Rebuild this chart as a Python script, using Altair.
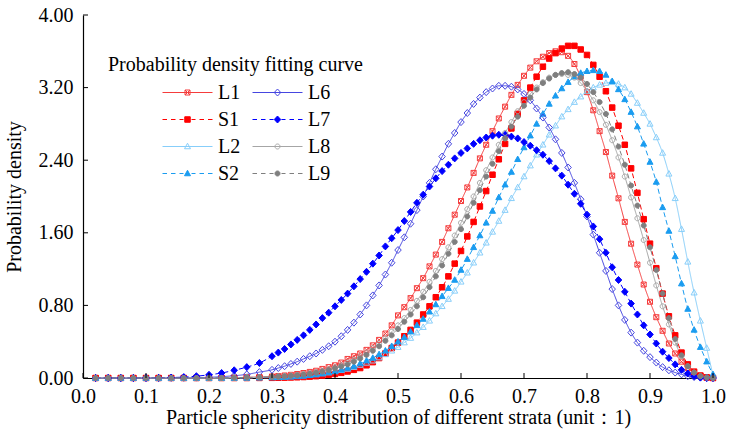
import altair as alt
import pandas as pd

# ---------------- data ----------------
X = [0.02, 0.04, 0.06, 0.08, 0.10, 0.12, 0.14, 0.16, 0.18, 0.20, 0.22, 0.24, 0.26, 0.28,
     0.30, 0.31, 0.32, 0.33, 0.34, 0.35, 0.36, 0.37, 0.38, 0.39,
     0.40, 0.41, 0.42, 0.43, 0.44, 0.45, 0.46, 0.47, 0.48, 0.49,
     0.50, 0.51, 0.52, 0.53, 0.54, 0.55, 0.56, 0.57, 0.58, 0.59,
     0.60, 0.61, 0.62, 0.63, 0.64, 0.65, 0.66, 0.67, 0.68, 0.69,
     0.70, 0.71, 0.72, 0.73, 0.74, 0.75, 0.76, 0.77, 0.78, 0.79,
     0.80, 0.81, 0.82, 0.83, 0.84, 0.85, 0.86, 0.87, 0.88, 0.89,
     0.90, 0.91, 0.92, 0.93, 0.94, 0.95, 0.96, 0.97, 0.98, 0.99,
     1.00]

L1 = [0, 0, 0, 0, 0, 0, 0, 0, 0, 0, 0.001, 0.004, 0.007, 0.011,
      0.017, 0.022, 0.028, 0.035, 0.044, 0.055, 0.067, 0.08, 0.10, 0.12,
      0.14, 0.17, 0.21, 0.24, 0.27, 0.31, 0.36, 0.42, 0.49, 0.58,
      0.69, 0.78, 0.88, 0.99, 1.10, 1.23, 1.36, 1.50, 1.65, 1.80,
      1.95, 2.10, 2.26, 2.42, 2.57, 2.72, 2.86, 2.99, 3.12, 3.23,
      3.33, 3.42, 3.49, 3.54, 3.58, 3.60, 3.59, 3.55, 3.46, 3.32,
      3.15, 2.95, 2.72, 2.49, 2.23, 1.98, 1.72, 1.48, 1.25, 1.03,
      0.84, 0.67, 0.52, 0.38, 0.27, 0.18, 0.11, 0.06, 0.03, 0.01,
      0.0]

S1 = [0, 0, 0, 0, 0, 0, 0, 0, 0, 0, 0, 0, 0, 0.001,
      0.002, 0.003, 0.004, 0.006, 0.008, 0.011, 0.015, 0.02, 0.027, 0.035,
      0.045, 0.057, 0.072, 0.09, 0.11, 0.14, 0.175, 0.22, 0.27, 0.33,
      0.39, 0.46, 0.53, 0.61, 0.70, 0.79, 0.89, 1.00, 1.12, 1.26,
      1.40, 1.56, 1.72, 1.89, 2.06, 2.24, 2.41, 2.58, 2.75, 2.91,
      3.06, 3.20, 3.32, 3.43, 3.52, 3.58, 3.63, 3.66, 3.66, 3.62,
      3.56, 3.45, 3.32, 3.16, 2.98, 2.78, 2.57, 2.31, 2.04, 1.75,
      1.48, 1.21, 0.93, 0.68, 0.47, 0.28, 0.15, 0.07, 0.025, 0.005,
      0.0]

L2 = [0, 0, 0, 0, 0, 0, 0, 0, 0, 0, 0, 0.002, 0.004, 0.006,
      0.008, 0.01, 0.013, 0.017, 0.021, 0.027, 0.033, 0.04, 0.05, 0.06,
      0.072, 0.086, 0.10, 0.12, 0.143, 0.166, 0.19, 0.225, 0.26, 0.30,
      0.34, 0.39, 0.44, 0.50, 0.56, 0.63, 0.71, 0.79, 0.87, 0.96,
      1.06, 1.16, 1.27, 1.38, 1.49, 1.61, 1.73, 1.85, 1.98, 2.10,
      2.22, 2.34, 2.46, 2.57, 2.68, 2.78, 2.88, 2.96, 3.04, 3.10,
      3.16, 3.20, 3.23, 3.25, 3.26, 3.24, 3.20, 3.13, 3.03, 2.92,
      2.80, 2.65, 2.48, 2.25, 1.98, 1.64, 1.28, 0.94, 0.63, 0.33,
      0.03]

S2 = [0, 0, 0, 0, 0, 0, 0, 0, 0, 0, 0, 0, 0.001, 0.003,
      0.005, 0.007, 0.01, 0.013, 0.017, 0.023, 0.03, 0.038, 0.048, 0.06,
      0.075, 0.09, 0.11, 0.13, 0.16, 0.19, 0.22, 0.26, 0.30, 0.35,
      0.40, 0.45, 0.51, 0.58, 0.65, 0.73, 0.81, 0.90, 0.99, 1.08,
      1.19, 1.31, 1.44, 1.57, 1.71, 1.84, 1.99, 2.13, 2.27, 2.41,
      2.54, 2.67, 2.80, 2.91, 3.02, 3.11, 3.19, 3.26, 3.32, 3.36,
      3.38, 3.39, 3.38, 3.34, 3.27, 3.18, 3.07, 2.93, 2.77, 2.58,
      2.38, 2.16, 1.88, 1.62, 1.34, 1.04, 0.76, 0.53, 0.34, 0.18,
      0.04]

L6 = [0, 0, 0, 0, 0, 0, 0.001, 0.002, 0.004, 0.008, 0.015, 0.025, 0.04, 0.065,
      0.09, 0.11, 0.13, 0.155, 0.18, 0.21, 0.24, 0.27, 0.31, 0.35,
      0.40, 0.46, 0.53, 0.61, 0.70, 0.80, 0.91, 1.02, 1.14, 1.27,
      1.41, 1.55, 1.70, 1.85, 2.00, 2.15, 2.30, 2.44, 2.58, 2.70,
      2.82, 2.92, 3.02, 3.09, 3.15, 3.19, 3.22, 3.22, 3.21, 3.18,
      3.13, 3.06, 2.97, 2.87, 2.76, 2.63, 2.48, 2.32, 2.15, 1.97,
      1.78, 1.58, 1.38, 1.18, 0.98, 0.80, 0.64, 0.50, 0.39, 0.30,
      0.23, 0.17, 0.12, 0.085, 0.06, 0.04, 0.02, 0.01, 0.004, 0.0,
      0.0]

L7 = [0, 0, 0, 0, 0.001, 0.002, 0.005, 0.01, 0.02, 0.035, 0.055, 0.085, 0.12, 0.165,
      0.24, 0.28, 0.32, 0.37, 0.42, 0.47, 0.53, 0.59, 0.66, 0.72,
      0.79, 0.86, 0.93, 1.01, 1.09, 1.17, 1.26, 1.35, 1.45, 1.54,
      1.63, 1.73, 1.83, 1.93, 2.02, 2.11, 2.20, 2.28, 2.35, 2.42,
      2.48, 2.53, 2.58, 2.62, 2.65, 2.67, 2.68, 2.68, 2.66, 2.64,
      2.60, 2.56, 2.51, 2.46, 2.39, 2.31, 2.23, 2.13, 2.03, 1.92,
      1.80, 1.67, 1.53, 1.38, 1.22, 1.08, 0.95, 0.82, 0.70, 0.58,
      0.48, 0.38, 0.29, 0.22, 0.15, 0.09, 0.05, 0.02, 0.005, 0.0,
      0.0]

L8 = [0, 0, 0, 0, 0, 0, 0, 0, 0, 0, 0.001, 0.003, 0.006, 0.009,
      0.013, 0.017, 0.021, 0.027, 0.034, 0.043, 0.053, 0.065, 0.08, 0.097,
      0.12, 0.14, 0.17, 0.20, 0.24, 0.28, 0.33, 0.38, 0.44, 0.51,
      0.58, 0.66, 0.75, 0.85, 0.95, 1.06, 1.18, 1.31, 1.44, 1.57,
      1.71, 1.86, 2.00, 2.15, 2.29, 2.43, 2.57, 2.70, 2.82, 2.94,
      3.04, 3.13, 3.20, 3.26, 3.31, 3.34, 3.35, 3.34, 3.31, 3.25,
      3.16, 3.06, 2.93, 2.79, 2.62, 2.43, 2.22, 1.99, 1.76, 1.52,
      1.27, 1.02, 0.79, 0.59, 0.39, 0.24, 0.13, 0.06, 0.02, 0.005,
      0.0]

L9 = [0, 0, 0, 0, 0, 0, 0, 0, 0, 0, 0.001, 0.003, 0.006, 0.009,
      0.012, 0.015, 0.019, 0.024, 0.03, 0.038, 0.047, 0.058, 0.071, 0.087,
      0.106, 0.128, 0.15, 0.18, 0.216, 0.255, 0.30, 0.35, 0.41, 0.47,
      0.54, 0.62, 0.70, 0.79, 0.89, 1.00, 1.12, 1.24, 1.37, 1.50,
      1.64, 1.78, 1.93, 2.07, 2.22, 2.36, 2.50, 2.64, 2.77, 2.88,
      3.00, 3.09, 3.18, 3.25, 3.30, 3.34, 3.36, 3.37, 3.35, 3.31,
      3.24, 3.15, 3.04, 2.91, 2.74, 2.55, 2.35, 2.12, 1.90, 1.68,
      1.44, 1.19, 0.93, 0.66, 0.43, 0.25, 0.13, 0.06, 0.02, 0.005,
      0.0]

XTICKS = [0.0, 0.1, 0.2, 0.3, 0.4, 0.5, 0.6, 0.7, 0.8, 0.9, 1.0]
YTICKS = [0.0, 0.8, 1.6, 2.4, 3.2, 4.0]

SERIES = {"L1": L1, "S1": S1, "L2": L2, "S2": S2,
          "L6": L6, "L7": L7, "L8": L8, "L9": L9}

rows = []
for name, vals in SERIES.items():
    for xv, yv in zip(X, vals):
        rows.append({"x": xv, "y": yv, "series": name})
df = pd.DataFrame(rows)

# ---------------- styles ----------------
FONT = "Liberation Serif"
ORDER = ["L1", "S1", "L2", "S2", "L6", "L7", "L8", "L9"]   # legend fills column by column
COLORS = {"L1": "#f53c3c", "S1": "#ff0000", "L2": "#87cefa", "S2": "#1a9cf0",
          "L6": "#4646e0", "L7": "#0000ff", "L8": "#a6a6a6", "L9": "#7f7f7f"}
FILLED = {"L1": False, "S1": True, "L2": False, "S2": True,
          "L6": False, "L7": True, "L8": False, "L9": True}
DASHED = {"L1": False, "S1": True, "L2": False, "S2": True,
          "L6": False, "L7": True, "L8": False, "L9": True}

SQX = "M-0.1,-0.1H0.1V0.1H-0.1ZM-0.1,-0.1L0.1,0.1M0.1,-0.1L-0.1,0.1"
SQ = "M-0.11,-0.11H0.11V0.11H-0.11Z"
TRI = "M0,-0.13L0.12,0.09L-0.12,0.09Z"
DIA = "M0,-0.14L0.13,0L0,0.14L-0.13,0Z"
CIR = "M0.1,0A0.1,0.1,0,1,1,-0.1,0A0.1,0.1,0,1,1,0.1,0Z"
MARKERS = {"L1": SQX, "S1": SQ, "L2": TRI, "S2": TRI,
           "L6": DIA, "L7": DIA, "L8": CIR, "L9": CIR}
SOLID_SEG = "M-1,0H1"
DASH_SEG = ("M-1,0H-0.82M-0.66,0H-0.48M-0.32,0H-0.16"
            "M0.16,0H0.32M0.48,0H0.66M0.82,0H1")

color_scale = alt.Scale(domain=ORDER, range=[COLORS[s] for s in ORDER])
fill_scale = alt.Scale(domain=ORDER,
                       range=[COLORS[s] if FILLED[s] else "transparent" for s in ORDER])
legend_shape_scale = alt.Scale(
    domain=ORDER,
    range=[(DASH_SEG if DASHED[s] else SOLID_SEG) + MARKERS[s] for s in ORDER])

xscale = alt.Scale(domain=[0, 1], nice=False, zero=False)
yscale = alt.Scale(domain=[0, 4], nice=False, zero=False)

x_axis = alt.Axis(values=XTICKS, format=".1f",
                  title="Particle sphericity distribution of different strata (unit：1)",
                  tickSize=0, labelPadding=8, titlePadding=1, grid=False,
                  labelFont=FONT, titleFont=FONT, labelFontSize=20, titleFontSize=20,
                  titleFontWeight="normal", labelColor="black", titleColor="black",
                  domainColor="black", domainWidth=1.2, labelFlush=False, labelOverlap=False)
y_axis = alt.Axis(values=YTICKS, format=".2f", title="Probability density",
                  tickSize=0, labelPadding=10, titlePadding=14, grid=False,
                  labelFont=FONT, titleFont=FONT, labelFontSize=20, titleFontSize=20,
                  titleFontWeight="normal", labelColor="black", titleColor="black",
                  domainColor="black", domainWidth=1.2, labelFlush=False, labelOverlap=False)

X_ENC = alt.X("x:Q", scale=xscale, axis=x_axis)
Y_ENC = alt.Y("y:Q", scale=yscale, axis=y_axis)

legend = alt.Legend(title=None, orient="none", legendX=79, legendY=64, columns=2,
                    symbolSize=2500, symbolStrokeWidth=1, labelOffset=5,
                    clipHeight=27, rowPadding=0, columnPadding=11,
                    labelFont=FONT, labelFontSize=20, labelColor="black",
                    labelLimit=200, padding=0)

line_layers = [
    alt.Chart(df).transform_filter(alt.datum.series == s).mark_line(
        strokeWidth=1, interpolate="monotone", color=COLORS[s],
        strokeDash=[5, 3] if DASHED[s] else [1, 0],
    ).encode(x=X_ENC, y=Y_ENC)
    for s in SERIES
]

point_layers = [
    alt.Chart(df).transform_filter(alt.datum.series == s).mark_point(
        shape=MARKERS[s], size=2500, strokeWidth=1, opacity=1, filled=False,
        stroke=COLORS[s], fill=COLORS[s] if FILLED[s] else "transparent",
    ).encode(x=X_ENC, y=Y_ENC)
    for s in SERIES
]

legend_layer = alt.Chart(df).transform_filter("datum.x > 2").mark_point(
    size=2500, strokeWidth=1, opacity=1, filled=False).encode(
    x=X_ENC, y=Y_ENC,
    color=alt.Color("series:N", scale=color_scale, legend=legend),
    fill=alt.Fill("series:N", scale=fill_scale, legend=legend),
    shape=alt.Shape("series:N", scale=legend_shape_scale, legend=legend),
)

xticks = alt.Chart(pd.DataFrame({"x": XTICKS})).mark_rule(color="black", strokeWidth=1).encode(
    x=X_ENC, y=alt.value(363), y2=alt.value(358))
yticks = alt.Chart(pd.DataFrame({"y": YTICKS})).mark_rule(color="black", strokeWidth=1).encode(
    y=Y_ENC, x=alt.value(0), x2=alt.value(5))

chart = alt.layer(*line_layers, *point_layers, legend_layer, xticks, yticks).properties(
    width=630, height=363,
    padding={"left": 83, "top": 15, "right": 20, "bottom": 59},
    autosize=alt.AutoSizeParams(type="none"),
    background="white",
    title=alt.TitleParams(text="Probability density fitting curve", anchor="start",
                          orient="top", frame="group", dx=25, dy=86, offset=0,
                          font=FONT, fontSize=20, fontWeight="normal", color="black",
                          baseline="alphabetic"),
).configure_view(stroke=None)

chart.save("out.html", embed_options={"renderer": "svg", "actions": False})
